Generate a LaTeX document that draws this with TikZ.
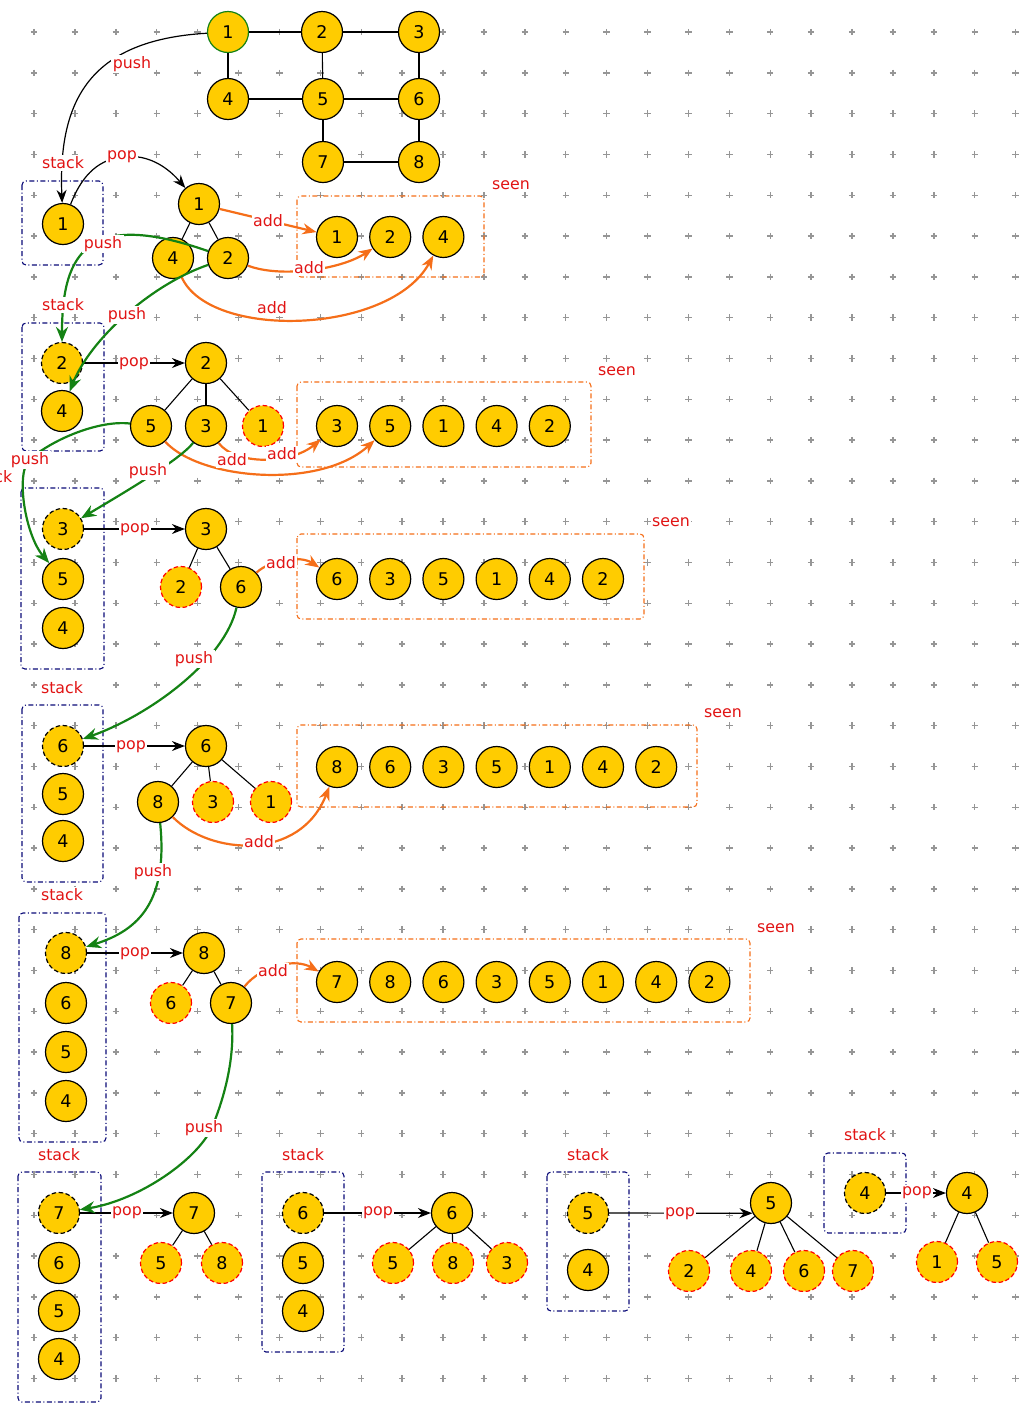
\documentclass[tikz,border=0pt]{standalone}
\usepackage{fontspec}
\setmainfont{DejaVu Sans}
\usetikzlibrary{arrows.meta}

\definecolor{gold}{RGB}{255,204,0}
\definecolor{lred}{RGB}{225,20,20}
\definecolor{pgreen}{RGB}{20,130,20}
\definecolor{aorange}{RGB}{245,110,25}
\definecolor{snavy}{RGB}{10,10,120}
\definecolor{dotgray}{RGB}{150,150,150}

\tikzset{
  vtx/.style={circle, draw=black, line width=1.2pt, fill=gold, minimum size=41pt,
    inner sep=0pt, font=\fontsize{17.5}{20}\selectfont},
  topv/.style={dash pattern=on 4.5pt off 2.5pt},
  seenv/.style={draw=red, dash pattern=on 4.5pt off 2.5pt},
  edge/.style={draw=black, line width=1.1pt},
  blkar/.style={draw=black, line width=1.2pt, -{Stealth[length=13pt,width=10pt]}},
  pushar/.style={draw=pgreen, line width=2.2pt, -{Stealth[length=15pt,width=12pt]}},
  addar/.style={draw=aorange, line width=2.2pt, -{Stealth[length=14pt,width=11pt]}},
  lbl/.style={text=lred, fill=white, inner sep=1.5pt, font=\fontsize{15.8}{18}\selectfont},
  stackbox/.style={draw=snavy, line width=1.1pt, rounded corners=4pt,
    dash pattern=on 5pt off 2.5pt on 1pt off 2.5pt},
  seenbox/.style={draw=aorange, line width=1.1pt, rounded corners=4pt,
    dash pattern=on 5pt off 2.5pt on 1pt off 2.5pt},
  gridplus/.style={draw=dotgray, line width=1.4pt}
}

\begin{document}
\begin{tikzpicture}[x=1pt,y=-1pt]
  \useasboundingbox (0,0) rectangle (1036,1414);
  \clip (0,0) rectangle (1036,1414);

  % background dots
  \foreach \i in {0,...,24}
    \foreach \j in {0,...,33}
      \draw[gridplus] ({34+40.9*\i-3.2},{32+40.8*\j}) -- ++(6.4,0)
                      ({34+40.9*\i},{32+40.8*\j-3.2}) -- ++(0,6.4);

  % the graph
  \node[vtx, draw=pgreen] (g1) at (228,32) {1};
  \node[vtx] (g2) at (322,32) {2};
  \node[vtx] (g3) at (419,32) {3};
  \node[vtx] (g4) at (228,99) {4};
  \node[vtx] (g5) at (323,99) {5};
  \node[vtx] (g6) at (419,99) {6};
  \node[vtx] (g7) at (323,162) {7};
  \node[vtx] (g8) at (419,162) {8};
  \foreach \a/\b in {g1/g2,g2/g3,g1/g4,g2/g5,g3/g6,g4/g5,g5/g6,g5/g7,g6/g8,g7/g8}
    \draw[edge] (\a) -- (\b);

  % step 1
  \draw[stackbox] (22,181) rectangle (103,265);
  \node[vtx] (st11) at (63,224) {1};
  \node[vtx] (tr1) at (199,204) {1};
  \node[vtx] (tr1a) at (173,258) {4};
  \node[vtx] (tr1b) at (228,258) {2};
  \draw[seenbox] (297,196) rectangle (484,277);
  \foreach \v [count=\i] in {1,2,4}
    \node[vtx] (sn1\i) at ({337+53.2*(\i-1)},237) {\v};

  % step 2
  \draw[stackbox] (22,323) rectangle (104,451);
  \node[vtx, topv] (st21) at (62,363) {2};
  \node[vtx] (st22) at (62,411) {4};
  \node[vtx] (tr2) at (206,363) {2};
  \node[vtx] (tr2a) at (151,426) {5};
  \node[vtx] (tr2b) at (206,426) {3};
  \node[vtx, seenv] (tr2c) at (263,426) {1};
  \draw[seenbox] (297,382) rectangle (591,467);
  \foreach \v [count=\i] in {3,5,1,4,2}
    \node[vtx] (sn2\i) at ({337+53.2*(\i-1)},426) {\v};

  % step 3
  \draw[stackbox] (21,488) rectangle (104,669);
  \node[vtx, topv] (st31) at (63,529) {3};
  \node[vtx] (st32) at (63,579) {5};
  \node[vtx] (st33) at (63,628) {4};
  \node[vtx] (tr3) at (206,529) {3};
  \node[vtx, seenv] (tr3a) at (181,587) {2};
  \node[vtx] (tr3b) at (241,587) {6};
  \draw[seenbox] (297,534) rectangle (644,619);
  \foreach \v [count=\i] in {6,3,5,1,4,2}
    \node[vtx] (sn3\i) at ({337+53.2*(\i-1)},579) {\v};

  % step 4
  \draw[stackbox] (22,705) rectangle (103,882);
  \node[vtx, topv] (st41) at (63,746) {6};
  \node[vtx] (st42) at (63,794) {5};
  \node[vtx] (st43) at (63,841) {4};
  \node[vtx] (tr4) at (206,746) {6};
  \node[vtx] (tr4a) at (158,802) {8};
  \node[vtx, seenv] (tr4b) at (213,802) {3};
  \node[vtx, seenv] (tr4c) at (271,802) {1};
  \draw[seenbox] (297,725) rectangle (697,807);
  \foreach \v [count=\i] in {8,6,3,5,1,4,2}
    \node[vtx] (sn4\i) at ({337+53.2*(\i-1)},767) {\v};

  % step 5
  \draw[stackbox] (19,913) rectangle (106,1142);
  \node[vtx, topv] (st51) at (66,953) {8};
  \node[vtx] (st52) at (66,1003) {6};
  \node[vtx] (st53) at (66,1052) {5};
  \node[vtx] (st54) at (66,1101) {4};
  \node[vtx] (tr5) at (204,953) {8};
  \node[vtx, seenv] (tr5a) at (171,1003) {6};
  \node[vtx] (tr5b) at (231,1003) {7};
  \draw[seenbox] (297,939) rectangle (750,1022);
  \foreach \v [count=\i] in {7,8,6,3,5,1,4,2}
    \node[vtx] (sn5\i) at ({337+53.2*(\i-1)},982) {\v};

  % step 6
  \draw[stackbox] (18,1172) rectangle (101,1402);
  \node[vtx, topv] (st61) at (59,1213) {7};
  \node[vtx] (st62) at (59,1263) {6};
  \node[vtx] (st63) at (59,1311) {5};
  \node[vtx] (st64) at (59,1359) {4};
  \node[vtx] (tr6) at (194,1213) {7};
  \node[vtx, seenv] (tr6a) at (161,1263) {5};
  \node[vtx, seenv] (tr6b) at (222,1263) {8};

  % step 7
  \draw[stackbox] (262,1172) rectangle (344,1352);
  \node[vtx, topv] (st71) at (303,1213) {6};
  \node[vtx] (st72) at (303,1263) {5};
  \node[vtx] (st73) at (303,1311) {4};
  \node[vtx] (tr7) at (452,1213) {6};
  \node[vtx, seenv] (tr7a) at (393,1263) {5};
  \node[vtx, seenv] (tr7b) at (453,1263) {8};
  \node[vtx, seenv] (tr7c) at (507,1263) {3};

  % step 8
  \draw[stackbox] (547,1172) rectangle (629,1311);
  \node[vtx, topv] (st81) at (588,1213) {5};
  \node[vtx] (st82) at (588,1270) {4};
  \node[vtx] (tr8) at (771,1203) {5};
  \node[vtx, seenv] (tr8a) at (689,1271) {2};
  \node[vtx, seenv] (tr8b) at (751,1271) {4};
  \node[vtx, seenv] (tr8c) at (804,1271) {6};
  \node[vtx, seenv] (tr8d) at (853,1271) {7};

  % step 9
  \draw[stackbox] (824,1153) rectangle (906,1233);
  \node[vtx, topv] (st91) at (865,1193) {4};
  \node[vtx] (tr9) at (967,1193) {4};
  \node[vtx, seenv] (tr9a) at (937,1262) {1};
  \node[vtx, seenv] (tr9b) at (997,1262) {5};

  % tree edges
  \foreach \a/\b in {tr1/tr1a,tr1/tr1b,tr2/tr2a,tr2/tr2b,tr2/tr2c,tr3/tr3a,tr3/tr3b,
      tr4/tr4a,tr4/tr4b,tr4/tr4c,tr5/tr5a,tr5/tr5b,tr6/tr6a,tr6/tr6b,
      tr7/tr7a,tr7/tr7b,tr7/tr7c,tr8/tr8a,tr8/tr8b,tr8/tr8c,tr8/tr8d,tr9/tr9a,tr9/tr9b}
    \draw[edge] (\a) -- (\b);

  % pop arrows
  \draw[blkar] (g1) .. controls (90,40) and (58,100) .. (st11);
  \draw[blkar] (st11) .. controls (80,180) and (95,160) .. (122,157)
               .. controls (150,153) and (170,170) .. (tr1);
  \draw[blkar] (st21) -- (tr2);
  \draw[blkar] (st31) -- (tr3);
  \draw[blkar] (st41) -- (tr4);
  \draw[blkar] (st51) -- (tr5);
  \draw[blkar] (st61) -- (tr6);
  \draw[blkar] (st71) -- (tr7);
  \draw[blkar] (st81) -- (tr8.209);
  \draw[blkar] (st91) -- (tr9);

  % add arrows
  \draw[addar] (tr1) -- (sn11);
  \draw[addar] (tr1b) .. controls (280,278) and (340,270) .. (sn12);
  \draw[addar] (tr1a) .. controls (210,340) and (390,335) .. (sn13);
  \draw[addar] (tr2b) .. controls (235,465) and (290,465) .. (sn21);
  \draw[addar] (tr2a) .. controls (200,480) and (320,490) .. (sn22);
  \draw[addar] (tr3b) .. controls (270,560) and (300,555) .. (sn31);
  \draw[addar] (tr4a) .. controls (210,855) and (300,862) .. (sn41);
  \draw[addar] (tr5b) .. controls (262,965) and (295,958) .. (sn51);

  % push arrows
  \draw[pushar] (tr1b) .. controls (90,210) and (62,250) .. (st21);
  \draw[pushar] (tr1b) .. controls (150,285) and (90,340) .. (st22);
  \draw[pushar] (tr2a) .. controls (100,420) and (55,438) .. (30,459)
                .. controls (15,472) and (25,535) .. (st32);
  \draw[pushar] (tr2b) .. controls (180,460) and (120,495) .. (st31);
  \draw[pushar] (tr3b) .. controls (225,660) and (150,715) .. (st41);
  \draw[pushar] (tr4a) .. controls (168,900) and (140,930) .. (st51);
  \draw[pushar] (tr5b) .. controls (234,1060) and (225,1095) .. (213,1125)
                .. controls (200,1158) and (140,1200) .. (st61);

  % labels
  \node[lbl] (lpush1) at (132,64) {push};
  \node[lbl] (lpop1) at (122,157) {pop};
  \node[lbl] (lstack1) at (63,163) {stack};
  \node[lbl] (ladd11) at (268,221) {add};
  \node[lbl] (ladd12) at (309,268) {add};
  \node[lbl] (ladd13) at (272,308) {add};
  \node[lbl] (lpush11) at (103,244) {push};
  \node[lbl] (lpush12) at (127,315) {push};
  \node[lbl] (lseen1) at (511,185) {seen};
  \node[lbl] (lstack2) at (63,305) {stack};
  \node[lbl] (lpop2) at (134,364) {pop};
  \node[lbl] (ladd21) at (282,454) {add};
  \node[lbl] (ladd22) at (232,460) {add};
  \node[lbl] (lpush21) at (30,460) {push};
  \node[lbl, anchor=east] (lstack3) at (14,477) {stack};
  \node[lbl] (lpush22) at (148,471) {push};
  \node[lbl] (lseen2) at (617,371) {seen};
  \node[lbl] (lpop3) at (135,530) {pop};
  \node[lbl] (ladd3) at (281,563) {add};
  \node[lbl] (lseen3) at (671,522) {seen};
  \node[lbl] (lpush3) at (194,659) {push};
  \node[lbl] (lstack4) at (62,688) {stack};
  \node[lbl] (lpop4) at (131,747) {pop};
  \node[lbl] (ladd4) at (259,842) {add};
  \node[lbl] (lseen4) at (723,713) {seen};
  \node[lbl] (lpush4) at (153,872) {push};
  \node[lbl] (lstack5) at (62,895) {stack};
  \node[lbl] (lpop5) at (135,954) {pop};
  \node[lbl] (ladd5) at (273,971) {add};
  \node[lbl] (lseen5) at (776,928) {seen};
  \node[lbl] (lpush5) at (204,1128) {push};
  \node[lbl] (lstack6) at (59,1155) {stack};
  \node[lbl] (lpop6) at (127,1213) {pop};
  \node[lbl] (lstack7) at (303,1155) {stack};
  \node[lbl] (lpop7) at (378,1213) {pop};
  \node[lbl] (lstack8) at (588,1155) {stack};
  \node[lbl] (lpop8) at (680,1214) {pop};
  \node[lbl] (lstack9) at (865,1135) {stack};
  \node[lbl] (lpop9) at (917,1193) {pop};
\end{tikzpicture}
\end{document}
